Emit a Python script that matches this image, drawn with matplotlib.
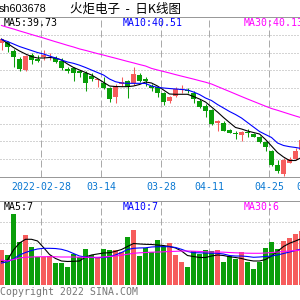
import numpy as np
import matplotlib.pyplot as plt
from matplotlib.transforms import blended_transform_factory

# daily K-line data, 603678, 2022-02-17 .. 2022-05-05
opens = [68.50, 68.75, 66.50, 64.62, 61.75, 65.50, 64.62, 65.00, 64.88, 64.75,
         64.12, 61.88, 62.25, 61.50, 61.12, 60.25, 59.18, 58.58, 57.32, 55.08,
         58.18, 59.00, 58.42, 60.50, 59.38, 57.75, 57.38, 55.92, 54.08, 55.25,
         56.80, 56.82, 55.92, 54.00, 52.82, 51.75, 48.62, 48.58, 46.75, 46.00,
         45.50, 46.30, 45.75, 45.08, 43.82, 41.58, 38.00, 35.68, 38.58, 39.42,
         41.75]
closes = [69.50, 67.38, 64.88, 62.00, 65.25, 64.25, 64.12, 65.62, 65.12, 63.75,
          62.25, 61.62, 61.12, 60.88, 58.62, 59.50, 59.42, 57.18, 54.42, 57.75,
          58.82, 57.58, 60.75, 59.00, 59.12, 57.25, 56.00, 53.82, 54.92, 57.00,
          57.00, 56.62, 54.42, 52.58, 51.58, 48.25, 48.88, 46.62, 46.08, 45.80,
          46.32, 46.05, 45.08, 43.68, 42.38, 38.00, 36.38, 39.25, 39.42, 41.58,
          44.25]
highs = [69.62, 69.00, 67.12, 65.00, 65.38, 66.12, 65.50, 66.75, 66.00, 65.25,
         64.75, 62.62, 62.50, 61.75, 61.38, 60.88, 59.50, 60.00, 57.62, 58.25,
         60.08, 59.25, 62.58, 60.92, 60.00, 58.25, 57.62, 56.25, 55.25, 57.50,
         57.88, 57.25, 56.50, 54.38, 53.25, 52.00, 49.25, 48.88, 47.00, 46.58,
         46.50, 47.00, 46.00, 45.25, 44.12, 41.75, 39.25, 39.68, 39.92, 42.18,
         45.25]
lows = [66.75, 66.25, 62.38, 61.50, 61.62, 63.25, 63.75, 64.25, 64.25, 63.50,
        61.75, 61.00, 59.12, 60.12, 56.50, 59.00, 57.38, 56.92, 53.82, 53.58,
        57.75, 54.82, 58.00, 58.68, 57.75, 56.50, 55.00, 53.00, 53.58, 55.00,
        56.00, 56.12, 53.58, 52.32, 50.00, 48.00, 46.50, 46.50, 45.88, 44.38,
        44.08, 45.00, 44.88, 43.50, 41.58, 37.75, 35.92, 35.25, 38.38, 39.25,
        41.50]
ma5 = [69.50, 68.38, 67.38, 66.50, 65.75, 65.12, 64.75, 64.75, 64.88, 64.75,
       64.25, 63.25, 62.38, 61.75, 61.12, 60.50, 59.62, 58.68, 57.75, 57.62,
       57.58, 57.58, 57.75, 58.12, 58.75, 58.50, 57.75, 56.75, 55.75, 55.68,
       55.68, 55.68, 55.12, 54.50, 53.75, 52.50, 51.25, 49.88, 48.62, 47.38,
       47.00, 46.50, 46.12, 45.75, 44.38, 42.75, 41.12, 40.00, 39.12, 39.12,
       39.88]
ma10 = [69.38, 68.88, 68.25, 67.62, 67.12, 66.62, 66.12, 65.75, 65.25, 64.75,
        64.25, 63.75, 63.42, 62.95, 62.38, 61.75, 61.12, 60.50, 59.50, 58.82,
        58.50, 58.42, 58.42, 58.42, 58.38, 57.75, 57.42, 57.25, 57.12, 57.00,
        56.88, 56.75, 56.25, 55.62, 54.75, 54.12, 53.12, 52.25, 51.38, 50.62,
        49.75, 48.62, 47.50, 46.38, 45.62, 44.88, 43.50, 42.88, 42.58, 42.38,
        42.12]
ma30 = [72.88, 72.42, 72.00, 71.52, 71.08, 70.62, 70.18, 69.75, 69.28, 68.82,
        68.38, 67.92, 67.50, 67.02, 66.65, 66.25, 65.85, 65.48, 65.08, 64.70,
        64.30, 63.90, 63.52, 63.12, 62.75, 62.15, 61.75, 61.38, 61.00, 60.60,
        60.22, 59.85, 59.48, 59.08, 58.70, 58.25, 57.62, 57.00, 56.38, 55.75,
        55.12, 54.50, 53.90, 53.30, 52.70, 52.12, 51.68, 51.20, 50.72, 50.25,
        49.80]
volume = [5.00, 4.29, 10.14, 6.19, 7.14, 5.43, 4.00, 4.00, 4.14, 3.19,
          3.10, 2.61, 4.43, 4.04, 5.14, 4.29, 4.04, 5.10, 5.00, 5.00,
          4.76, 6.90, 7.86, 4.14, 5.24, 4.76, 6.47, 5.53, 5.96, 4.29,
          3.33, 2.61, 4.86, 4.43, 5.00, 4.86, 5.00, 3.33, 4.14, 3.76,
          4.67, 3.33, 2.33, 3.33, 5.33, 6.19, 5.14, 6.33, 6.76, 7.33,
          7.76]
vol_ma5 = [3.36, 3.57, 5.00, 6.00, 6.53, 6.53, 6.29, 5.36, 4.36, 3.79,
           3.43, 3.36, 3.39, 3.43, 4.00, 4.29, 4.43, 4.57, 4.61, 4.81,
           5.07, 5.50, 5.93, 5.86, 5.81, 5.79, 5.71, 5.64, 5.50, 5.29,
           4.86, 4.21, 4.07, 3.93, 3.93, 4.14, 4.29, 4.21, 4.04, 3.93,
           3.79, 3.57, 3.43, 3.43, 3.64, 4.14, 4.79, 5.50, 5.96, 6.29,
           6.64]
vol_ma10 = [3.14, 3.33, 3.71, 4.29, 4.64, 4.93, 5.14, 5.24, 5.24, 5.21,
            5.10, 4.86, 4.50, 4.14, 4.00, 3.93, 3.90, 3.93, 4.04, 4.29,
            4.64, 5.07, 5.24, 5.29, 5.31, 5.43, 5.47, 5.47, 5.47, 5.36,
            5.10, 4.79, 4.61, 4.60, 4.57, 4.54, 4.53, 4.43, 4.21, 4.14,
            4.14, 4.07, 3.96, 4.00, 4.07, 4.14, 4.29, 4.50, 4.71, 4.93,
            5.14]
vol_ma30 = [3.57, 3.43, 3.64, 3.86, 3.96, 4.00, 4.03, 4.04, 4.04, 4.03,
            4.00, 4.00, 4.00, 3.97, 3.96, 3.96, 3.96, 4.00, 4.07, 4.14,
            4.24, 4.39, 4.53, 4.60, 4.64, 4.69, 4.71, 4.74, 4.79, 4.81,
            4.86, 4.86, 4.83, 4.79, 4.74, 4.71, 4.71, 4.69, 4.64, 4.60,
            4.57, 4.54, 4.53, 4.53, 4.57, 4.64, 4.71, 4.79, 4.86, 4.93,
            5.00]
date_pos = [7, 17, 27, 35, 45, 52]
date_labels = ['2022-02-28', '03-14', '03-28', '04-11', '04-25', '05-09']

RED = '#f65c5c'
GREEN = '#0a9e0a'
GRID = '#aaaaaa'
SPINE = '#999999'
MONO = 'DejaVu Sans Mono'
FS = 7.1

fig = plt.figure(figsize=(3, 3), dpi=100)
fig.patch.set_facecolor('white')


def px_axes(top, bottom):
    # axes spanning the full width, between pixel rows top..bottom
    return fig.add_axes([0, 1 - bottom / 300, 1, (bottom - top) / 300])


ax = px_axes(17, 177)
axv = px_axes(201, 285)

x = np.arange(len(opens))
o = np.array(opens)
c = np.array(closes)
colors = np.where(c >= o, RED, GREEN)

for a in (ax, axv):
    a.set_xlim(-0.25, 49.75)
    a.set_xticks([])
    a.set_yticks([])
    for s in ('left', 'right', 'bottom'):
        a.spines[s].set_visible(False)
    a.spines['top'].set_color(SPINE)
    a.spines['top'].set_linewidth(0.72)
    for p in date_pos:
        a.axvline(p - 0.42, color=GRID, lw=0.72, ls=(0, (7, 3)), zorder=0)

# price panel
ax.set_ylim(35, 75)
ax.spines['bottom'].set_visible(True)
ax.spines['bottom'].set_color(SPINE)
ax.spines['bottom'].set_linewidth(0.72)
for lv in np.linspace(35, 75, 10)[1:-1]:
    ax.axhline(lv, color=GRID, lw=0.72, ls=(0, (1, 2)), zorder=0)

ax.vlines(x, lows, highs, colors=colors, lw=0.75, zorder=2)
ax.bar(x, np.maximum(np.abs(c - o), 0.15), bottom=np.minimum(o, c),
       width=0.8, color=colors, linewidth=0, zorder=3)
ax.plot(x, ma5, color='black', lw=0.8, zorder=4)
ax.plot(x, ma10, color='#0000ff', lw=0.8, zorder=4)
ax.plot(x, ma30, color='#ff00ff', lw=0.8, zorder=4)

trans = blended_transform_factory(ax.transData, ax.transAxes)
for p, lab in zip(date_pos, date_labels):
    ax.text(p - 0.42, -0.062, lab, transform=trans, ha='center', va='center',
            family=MONO, fontsize=FS, color='#0a78d2', clip_on=False)

# volume panel
axv.set_ylim(0, 12)
for lv in (6, 9):
    axv.axhline(lv, color=GRID, lw=0.72, ls=(0, (1, 2)), zorder=0)
axv.bar(x, volume, width=0.8, color=colors, linewidth=0, zorder=2)
axv.plot(x, vol_ma5, color='black', lw=0.8, zorder=4)
axv.plot(x, vol_ma10, color='#0000ff', lw=0.8, zorder=4)
axv.plot(x, vol_ma30, color='#ff00ff', lw=0.8, zorder=4)

# texts
def ftext(px, py, s, **kw):
    fig.text(px / 300, 1 - py / 300, s, va='center', **kw)

ftext(-1, 9, 'sh603678', family='Liberation Sans', fontsize=7.8, color='black')
ftext(70, 9, '火炬电子  -  日K线图', family=['Noto Sans CJK SC', 'DejaVu Sans'],
      fontsize=9, color='black')
ftext(4, 23.5, 'MA5:39.73', family=MONO, fontsize=FS, color='black')
ftext(123, 23.5, 'MA10:40.51', family=MONO, fontsize=FS, color='#0000ff')
ftext(244, 23.5, 'MA30:40.13', family=MONO, fontsize=FS, color='#ff00ff')
ftext(4, 207, 'MA5:7', family=MONO, fontsize=FS, color='black')
ftext(123, 207, 'MA10:7', family=MONO, fontsize=FS, color='#0000ff')
ftext(244, 207, 'MA30:6', family=MONO, fontsize=FS, color='#ff00ff')
ftext(0, 292, 'Copyright 2022 SINA.COM', family=MONO, fontsize=FS, color='#777777')

fig.savefig('out.png', dpi=100, facecolor='white')
